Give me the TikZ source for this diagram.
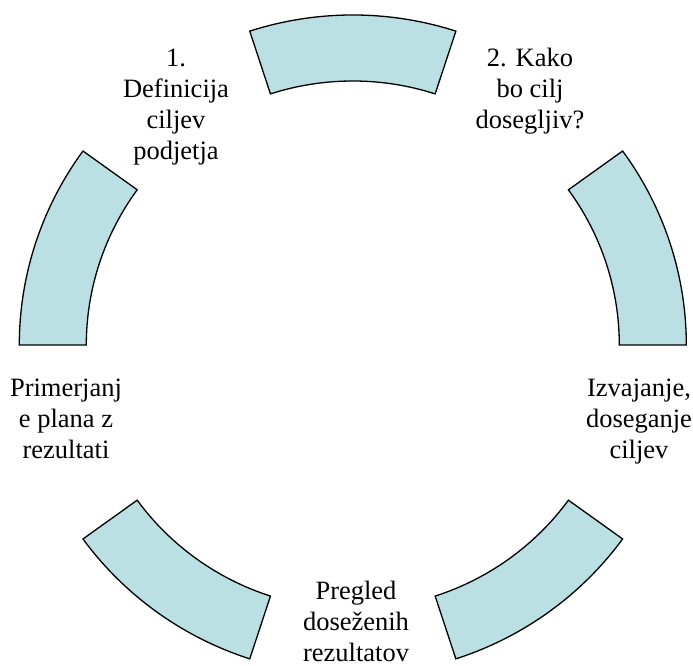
\documentclass[tikz,border=0pt]{standalone}
\usepackage{fontspec}
\setmainfont{Liberation Serif}
\usetikzlibrary{calc}
\begin{document}
\begin{tikzpicture}[x=1pt,y=1pt,
  seg/.style={draw=black, line width=1.3pt, fill=segfill, line join=miter},
  lbl/.style={align=center, inner sep=0pt, anchor=base,
    font=\fontsize{26.5}{31}\selectfont}]
\definecolor{segfill}{RGB}{186,224,227}
\useasboundingbox (0,0) rectangle (693,666);
\coordinate (C) at (352.8,321);
% outer and inner radii of the ring
\def\rox{333.5}\def\roy{330}
\def\rix{266.5}\def\riy{264}
% one ring segment from angle #1 to angle #2
\newcommand{\ringseg}[2]{%
  \draw[seg] ($(C)+(#1:\rox pt and \roy pt)$)
    arc[start angle=#1, end angle=#2, x radius=\rox, y radius=\roy]
    -- ($(C)+(#2:\rix pt and \riy pt)$)
    arc[start angle=#2, end angle=#1, x radius=\rix, y radius=\riy]
    -- cycle;}
\ringseg{72}{108}
\ringseg{0}{36}
\ringseg{-72}{-36}
\ringseg{216}{252}
\ringseg{144}{180}
% step labels (anchored at the baseline of the last line)
\node[lbl] (t1) at (176,506) {1.\\Definicija\\ciljev\\podjetja};
\node[lbl] (t2) at (530,537) {2. Kako\\bo cilj\\dosegljiv?};
\node[lbl] (t3) at (639,207) {Izvajanje,\\doseganje\\ciljev};
\node[lbl] (t4) at (356,4.5) {Pregled\\doseženih\\rezultatov};
\node[lbl] (t5) at (66,207) {Primerjanj\\e plana z\\rezultati};
\end{tikzpicture}
\end{document}
